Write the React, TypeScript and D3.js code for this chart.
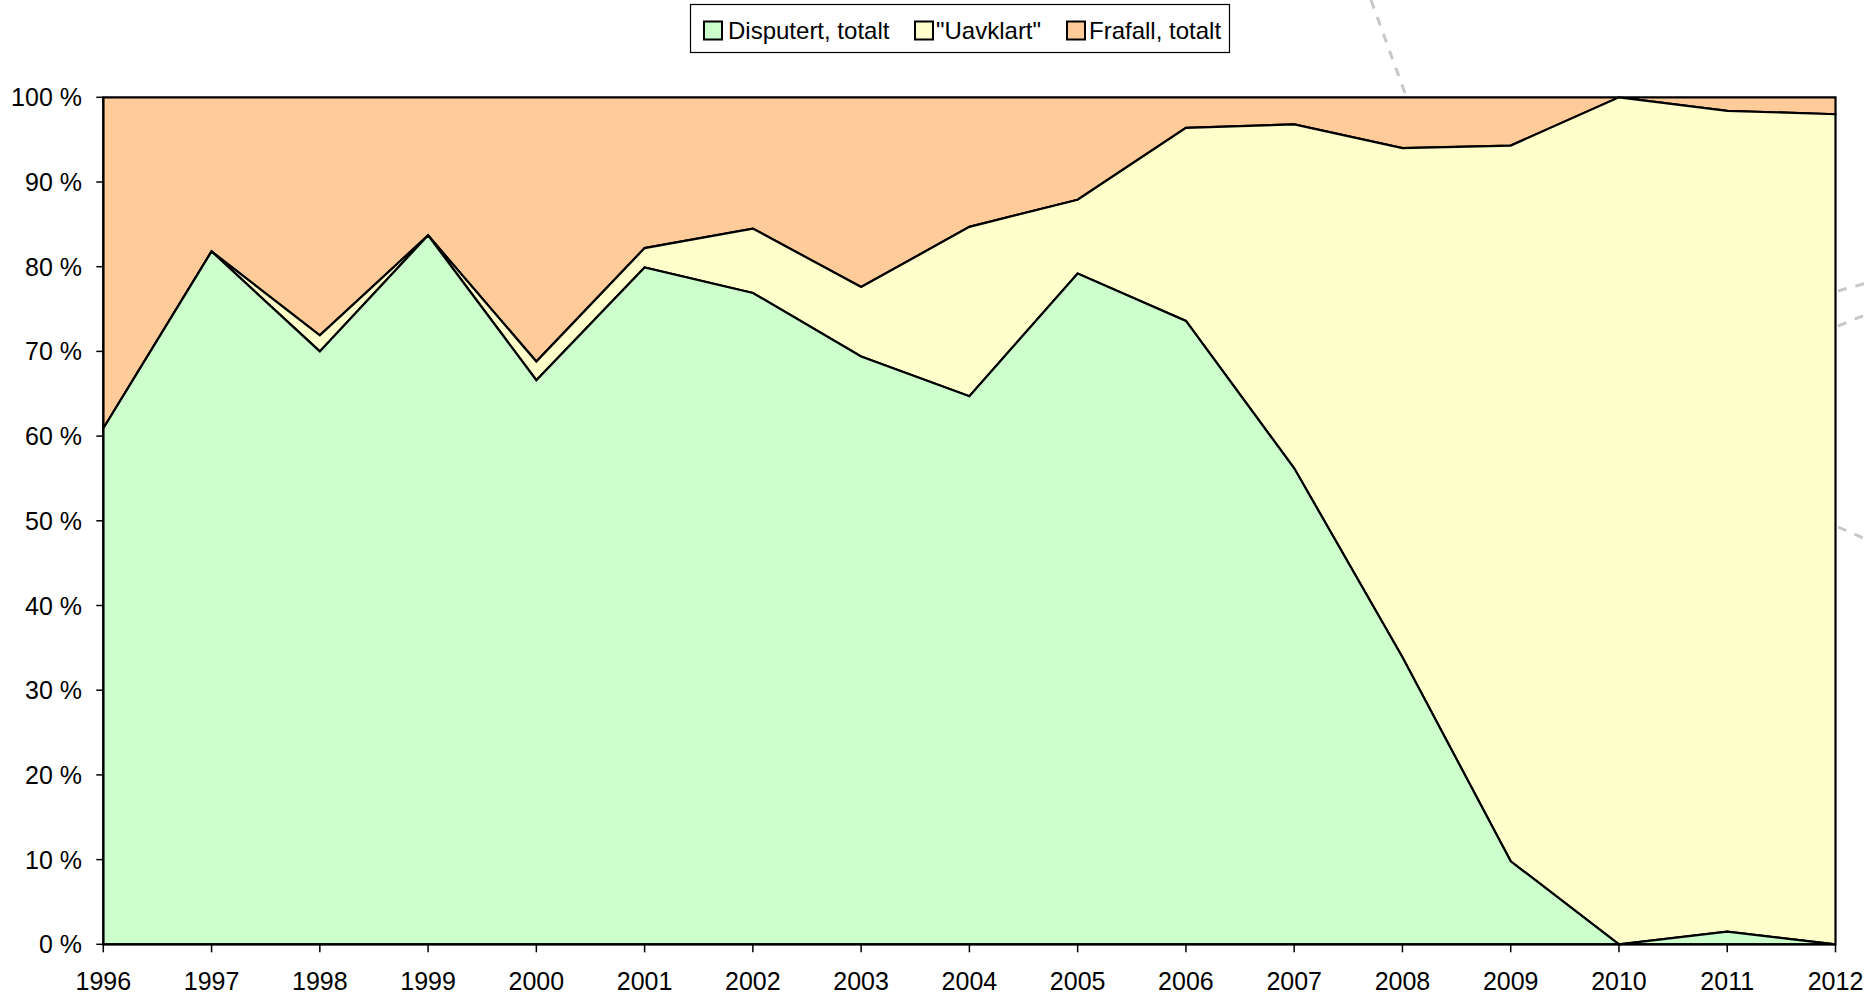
import React from "react";
import * as d3 from "d3";

const years = [1996, 1997, 1998, 1999, 2000, 2001, 2002, 2003, 2004, 2005, 2006, 2007, 2008, 2009, 2010, 2011, 2012];
const disputert = [60.9, 81.8, 70.0, 83.7, 66.6, 79.9, 76.9, 69.4, 64.7, 79.2, 73.6, 56.2, 33.9, 9.8, 0, 1.5, 0];
const uavklart = [0, 0, 1.9, 0, 2.2, 2.3, 7.6, 8.2, 20.0, 8.7, 22.8, 40.6, 60.1, 84.5, 100, 96.9, 98.0];
const frafall = [39.1, 18.2, 28.1, 16.3, 31.2, 17.8, 15.5, 22.4, 15.3, 12.1, 3.6, 3.2, 6.0, 5.7, 0, 1.6, 2.0];
const seriesNames = ["Disputert, totalt", "\"Uavklart\"", "Frafall, totalt"];
const seriesColors = ["#CCFFCC", "#FFFFCC", "#FFCC99"];
const yTicks = [0, 10, 20, 30, 40, 50, 60, 70, 80, 90, 100];

const W = 1870, H = 998;
const left = 103.3, right = 1835.5, top = 97.3, bottom = 944.3;
const FONT = "'Liberation Sans', Arial, sans-serif";

export default function App() {
  const x = d3.scaleLinear().domain([years[0], years[years.length - 1]]).range([left, right]);
  const y = d3.scaleLinear().domain([0, 100]).range([bottom, top]);
  const rows = years.map((yr, i) => ({ year: yr, s0: disputert[i], s1: uavklart[i], s2: frafall[i] }));
  const stacked = d3.stack<any>().keys(["s0", "s1", "s2"])(rows);
  const area = d3.area<any>()
    .x((d) => x(d.data.year))
    .y0((d) => y(d[0]))
    .y1((d) => y(d[1]));

  const legendItems = [
    { sx: 704, tx: 728 },
    { sx: 915, tx: 936 },
    { sx: 1067, tx: 1089 },
  ];

  return (
    <svg width={W} height={H} style={{ position: "absolute", left: 0, top: 0, background: "#fff" }} fontFamily={FONT}>
      {/* faint background decoration */}
      <g stroke="#c8c8c8" strokeWidth={3} strokeDasharray="9 9" fill="none">
        <path d="M1371,0 L1406,96" />
        <path d="M1838,291 L1870,282" />
        <path d="M1838,326 L1870,313" />
        <path d="M1838,527 L1870,541" />
      </g>
      {/* areas (drawn top series first so lower ones' strokes sit on top) */}
      {stacked.slice().reverse().map((s, k) => {
        const idx = stacked.length - 1 - k;
        return (
          <path key={idx} d={area(s) as string} fill={seriesColors[idx]} stroke="#000" strokeWidth={2.2} strokeLinejoin="miter" />
        );
      })}
      {/* axes */}
      <line x1={left} x2={left} y1={top} y2={bottom} stroke="#000" strokeWidth={2} />
      <line x1={left} x2={right} y1={bottom} y2={bottom} stroke="#000" strokeWidth={2} />
      {yTicks.map((t) => (
        <g key={t}>
          <line x1={left - 7} x2={left} y1={y(t)} y2={y(t)} stroke="#000" strokeWidth={1.5} />
          <text x={82} y={y(t) + 9} textAnchor="end" fontSize={25} fill="#000">{`${t} %`}</text>
        </g>
      ))}
      {years.map((yr) => (
        <g key={yr}>
          <line x1={x(yr)} x2={x(yr)} y1={bottom} y2={bottom + 8} stroke="#000" strokeWidth={1.5} />
          <text x={x(yr)} y={990} textAnchor="middle" fontSize={25} fill="#000">{yr}</text>
        </g>
      ))}
      {/* legend */}
      <rect x={690.5} y={4.5} width={539} height={48} fill="#fff" stroke="#000" strokeWidth={1.2} />
      {seriesNames.map((n, i) => (
        <g key={n}>
          <rect x={legendItems[i].sx} y={21.5} width={18} height={18} fill={seriesColors[i]} stroke="#000" strokeWidth={2} />
          <text x={legendItems[i].tx} y={39} fontSize={24} fill="#000">{n}</text>
        </g>
      ))}
    </svg>
  );
}
